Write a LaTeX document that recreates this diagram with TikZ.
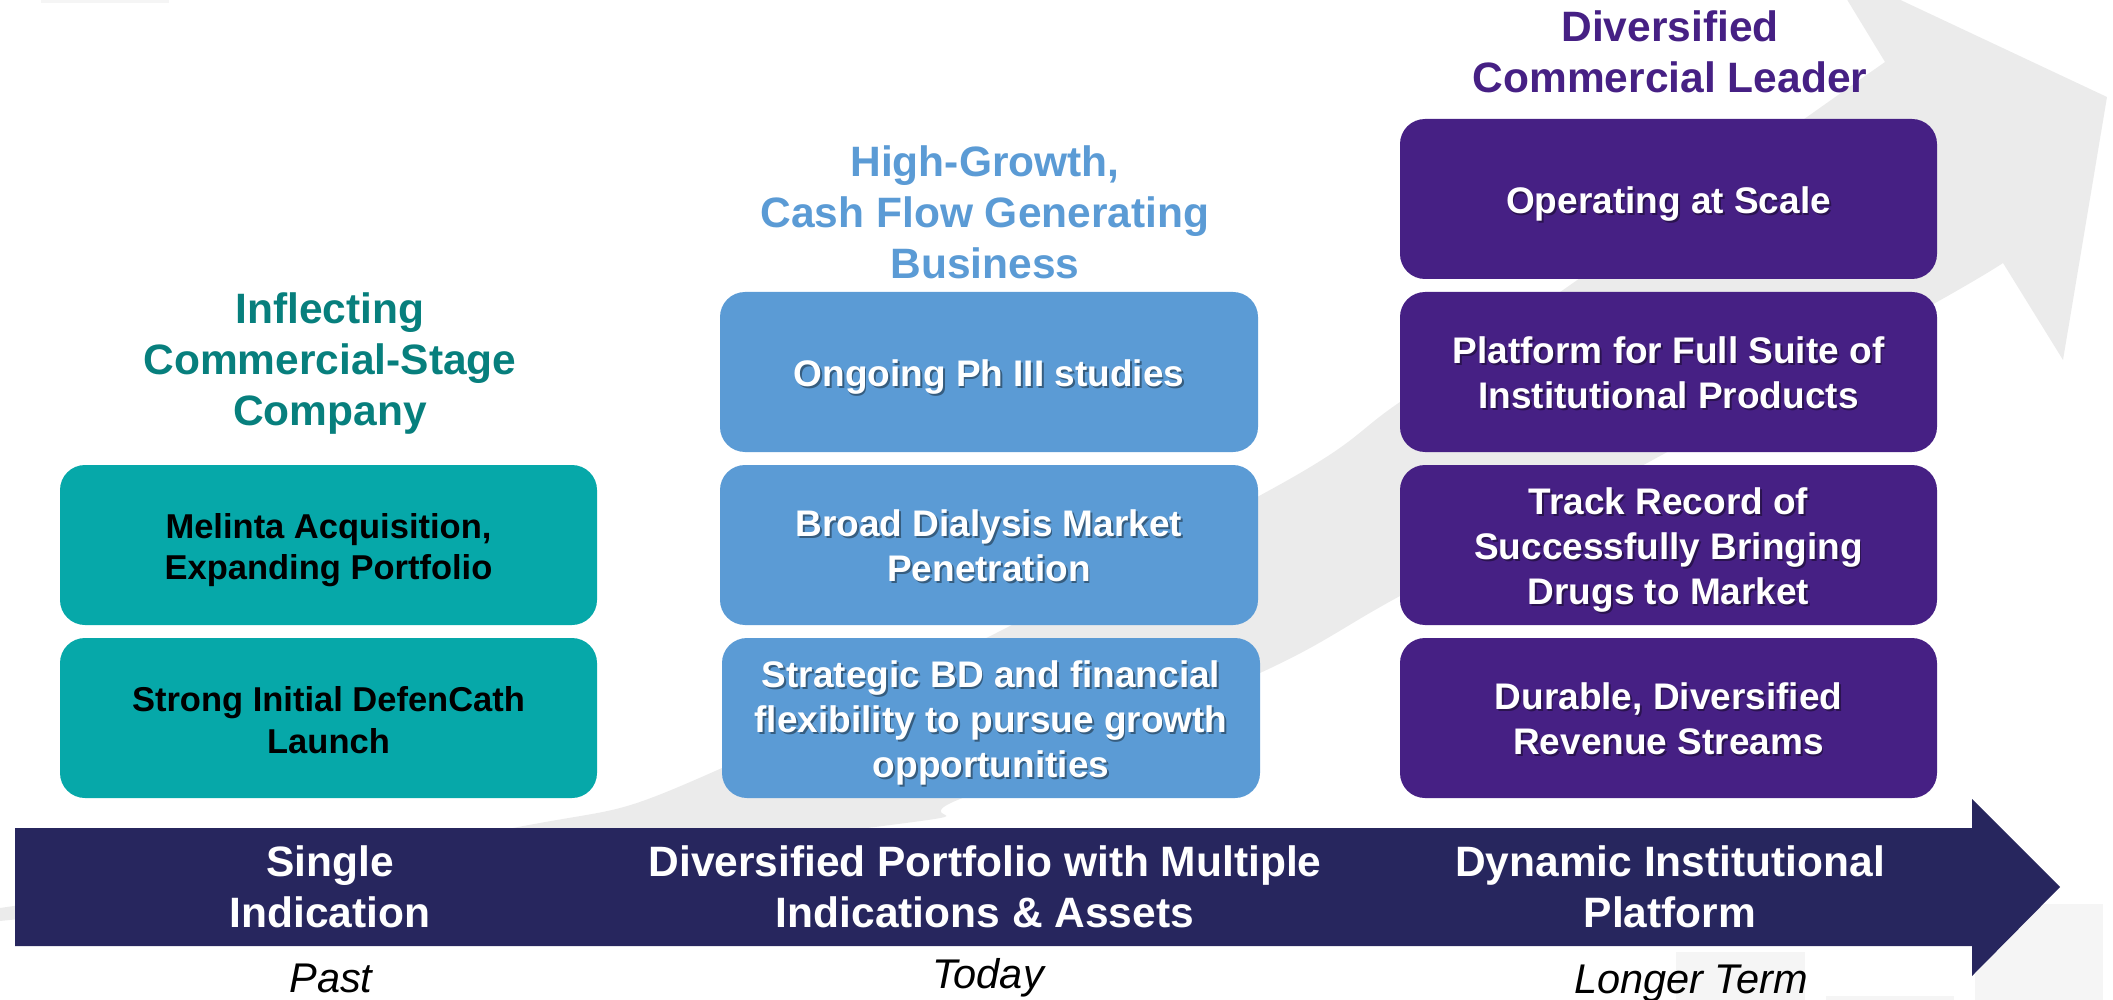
\documentclass[tikz,border=0pt]{standalone}
\usepackage{fontspec}
\setmainfont{Liberation Sans}
\definecolor{tealbox}{HTML}{06A8A9}
\definecolor{tealtitle}{HTML}{077F7D}
\definecolor{bluebox}{HTML}{5B9BD5}
\definecolor{purplebox}{HTML}{462084}
\definecolor{navybar}{HTML}{27265E}
\definecolor{arrowgrey}{HTML}{EBEBEB}
\definecolor{faintgrey}{HTML}{F5F5F5}
% #1 box name, #2 style, #3 downward shift (pt), #4 text
\newcommand{\whitetext}[4]{%
  \node[#2, text=black, opacity=0.4] at ([xshift=1.8pt,yshift=-#3pt-1.8pt]#1.center) {#4};
  \node[#2, text=white] (#1-txt) at ([yshift=-#3pt]#1.center) {#4};}
\begin{document}
\begin{tikzpicture}[x=1pt, y=-1pt,
  boxbase/.style={rounded corners=25pt, minimum width=537pt, minimum height=160pt, inner sep=0pt, outer sep=0pt},
  tealb/.style={boxbase, fill=tealbox},
  blueb/.style={boxbase, fill=bluebox, minimum width=538pt},
  purpb/.style={boxbase, fill=purplebox},
  boxtxt/.style={font=\fontsize{37}{45}\selectfont\bfseries, align=center, inner sep=0pt},
  tealtxt/.style={font=\fontsize{34.5}{41.5}\selectfont\bfseries, align=center, inner sep=0pt, text=black},
  titletxt/.style={font=\fontsize{42.5}{51}\selectfont\bfseries, align=center, inner sep=0pt},
  bartxt/.style={titletxt, text=white},
  whentxt/.style={font=\fontsize{41.5}{50}\selectfont\itshape, inner sep=0pt, anchor=base}]
\useasboundingbox (0,0) rectangle (2113,1000);
% faint background patches
\fill[faintgrey] (41,0) rectangle (169,3);
\fill[faintgrey] (1676,952) rectangle (1805,1000);
\fill[faintgrey] (1826,996) rectangle (1954,1000);
\fill[faintgrey] (1975,904) rectangle (2103,1000);
% big grey background arrow
\begin{scope}
\clip (0,0) rectangle (2113,1000);
\fill[arrowgrey] plot[smooth, tension=0.55] coordinates {(0,908) (513,828) (722,768) (1259,496) (1400,402) (1573,283) (1807,117) (1885,62)}
  -- (1826,-35) -- (2107,97) -- (2063,360) -- (2003,263)
  -- plot[smooth, tension=0.55] coordinates {(2003,263) (1937,302) (1660,456) (1400,596) (1260,673) (960,799) (867,828) (0,921)} -- cycle;
\end{scope}
% titles
\node[titletxt, text=tealtitle] (t1) at (330,364) {Inflecting\\Commercial-Stage\\Company};
\node[titletxt, text=bluebox] (t2) at (985,212.5) {High-Growth,\\Cash Flow Generating\\Business};
\node[titletxt, text=purplebox] (t3) at (1670,52) {Diversified\\Commercial Leader};
% teal column
\node[tealb] (a1) at (328.5,545) {};
\node[tealtxt] (a1-txt) at ([yshift=-5pt]a1.center) {Melinta Acquisition,\\Expanding Portfolio};
\node[tealb] (a2) at (328.5,718) {};
\node[tealtxt] (a2-txt) at ([yshift=-2pt]a2.center) {Strong Initial DefenCath\\Launch};
% blue column
\node[blueb] (b1) at (989,372) {};
\whitetext{b1}{boxtxt}{5}{Ongoing Ph III studies}
\node[blueb] (b2) at (989,545) {};
\whitetext{b2}{boxtxt}{1}{Broad Dialysis Market\\Penetration}
\node[blueb] (b3) at (991,718) {};
\whitetext{b3}{boxtxt}{5}{Strategic BD and financial\\flexibility to pursue growth\\opportunities}
% purple column
\node[purpb] (c1) at (1668.5,199) {};
\whitetext{c1}{boxtxt}{5}{Operating at Scale}
\node[purpb] (c2) at (1668.5,372) {};
\whitetext{c2}{boxtxt}{1}{Platform for Full Suite of\\Institutional Products}
\node[purpb] (c3) at (1668.5,545) {};
\whitetext{c3}{boxtxt}{5}{Track Record of\\Successfully Bringing\\Drugs to Market}
\node[purpb] (c4) at (1668.5,718) {};
\whitetext{c4}{boxtxt}{1}{Durable, Diversified\\Revenue Streams}
% timeline bar arrow
\fill[navybar] (15,828) -- (1972,828) -- (1972,799) -- (2060,887) -- (1972,976) -- (1972,946) -- (15,946) -- cycle;
\node[bartxt] (s1) at (330,887) {Single\\Indication};
\node[bartxt] (s2) at (985,887) {Diversified Portfolio with Multiple\\Indications \& Assets};
\node[bartxt] (s3) at (1670,887) {Dynamic Institutional\\Platform};
% time labels
\node[whentxt] (w1) at (331,992) {Past};
\node[whentxt] (w2) at (988,988) {Today};
\node[whentxt] (w3) at (1691,993) {Longer Term};
\end{tikzpicture}
\end{document}
